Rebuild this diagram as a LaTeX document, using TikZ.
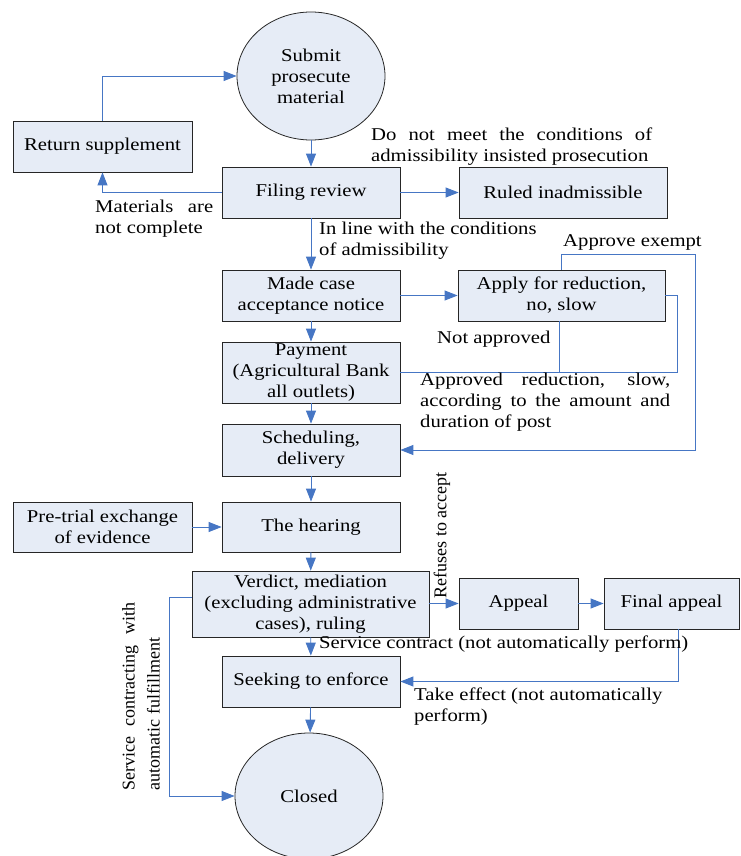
\documentclass[tikz,border=0pt]{standalone}
\usepackage{fontspec}
\setmainfont{Liberation Serif}[FakeStretch=1.15]
\newfontfamily\rotfont{Liberation Serif}
\usetikzlibrary{shapes.geometric,arrows.meta}
\definecolor{boxfill}{RGB}{230,236,246}
\definecolor{linkblue}{RGB}{70,118,196}
\begin{document}
\begin{tikzpicture}[x=1pt,y=-1pt,
  every node/.style={font=\fontsize{18}{21}\selectfont, inner sep=0pt},
  box/.style={draw=black!85, fill=boxfill, line width=0.8pt, align=center},
  oval/.style={ellipse, draw=black!85, fill=boxfill, line width=0.8pt, align=center},
  link/.style={draw=linkblue, line width=0.9pt},
  arr/.style={link, -{Triangle[length=13pt,width=10pt]}},
  rottext/.style={rotate=90, font=\rotfont\fontsize{18}{25}\selectfont},
]
\useasboundingbox (0,0) rectangle (740,856);

% nodes
\node[oval, minimum width=148pt, minimum height=128pt] (sub) at (311,76) {Submit\\prosecute\\material};
\node[box, minimum width=179pt, minimum height=51pt] (ret) at (102.5,146.5) {Return supplement};
\node[box, minimum width=178pt, minimum height=51pt] (fil) at (311,192.5) {Filing review};
\node[box, minimum width=208pt, minimum height=51pt] (rul) at (563,192.5) {Ruled inadmissible};
\node[box, minimum width=178pt, minimum height=51pt] (made) at (311,295.5) {Made case\\acceptance notice};
\node[box, minimum width=207pt, minimum height=51pt] (apl) at (561.5,295.5) {Apply for reduction,\\no, slow};
\node[box, minimum width=178pt, minimum height=61pt] (pay) at (311,372.5) {Payment\\(Agricultural Bank\\all outlets)};
\node[box, minimum width=178pt, minimum height=52pt] (sch) at (311,450) {Scheduling,\\delivery};
\node[box, minimum width=179pt, minimum height=50pt] (pre) at (102.5,527) {Pre-trial exchange\\of evidence};
\node[box, minimum width=178pt, minimum height=50pt] (hear) at (311,527) {The hearing};
\node[box, minimum width=237pt, minimum height=66pt] (ver) at (310.5,604) {Verdict, mediation\\(excluding administrative\\cases), ruling};
\node[box, minimum width=119pt, minimum height=51pt] (app) at (518.5,603.5) {Appeal};
\node[box, minimum width=135pt, minimum height=51pt] (fin) at (671.5,603.5) {Final appeal};
\node[box, minimum width=178pt, minimum height=51pt] (seek) at (311,681.5) {Seeking to enforce};
\node[oval, minimum width=148pt, minimum height=126pt] (clo) at (309,796) {Closed};

% helper coordinates
\coordinate (ae) at (695,254);
\coordinate (ar) at (677,0);
\coordinate (fb) at (678,0);
\coordinate (lc) at (169,0);

% connectors
\draw[arr] (sub.south) -- (fil.north);
\draw[arr] (ret.north) |- (sub.west);
\draw[arr] (fil.west) -| (ret.south);
\draw[arr] (fil) -- (rul);
\draw[arr] (fil) -- (made);
\draw[arr] (made) -- (apl);
\draw[arr] (made) -- (pay);
\draw[arr] (pay) -- (sch);
\draw[arr] (apl.north) |- (ae) |- (sch.east);
\draw[link] (apl.east) -| (ar |- pay.east) -- (pay.east);
\draw[link] ([xshift=-2.5pt]apl.south) -- ([xshift=-2.5pt]apl.south |- pay.east);
\draw[arr] (sch) -- (hear);
\draw[arr] (pre) -- (hear);
\draw[arr] (hear) -- (ver);
\draw[arr] (ver.east |- app.west) -- (app.west);
\draw[arr] (app) -- (fin);
\draw[arr] (fin.south -| fb) |- (seek.east);
\draw[arr] (ver) -- (seek);
\draw[arr] (seek) -- (clo);
\draw[arr] ([yshift=7pt]ver.west) -| (lc |- clo.west) -- (clo.west);

% labels
\node[anchor=west, text width=281pt, align=justify] (l1) at (371,146.5) {Do not meet the conditions of\linebreak admissibility insisted prosecution};
\node[anchor=west, text width=118pt, align=justify] (l2) at (95,218.5) {Materials are\linebreak not complete};
\node[anchor=west, align=left] (l3) at (319,241) {In line with the conditions\\of admissibility};
\node[anchor=west] (l4) at (563,242) {Approve exempt};
\node[anchor=west] (l5) at (437,339) {Not approved};
\node[anchor=west, text width=250pt, align=justify] (l6) at (420,402.5) {Approved reduction, slow,\linebreak according to the amount and\linebreak duration of post};
\node[rottext] (l7) at (442,535.5) {Refuses to accept};
\node[anchor=west] (l8) at (319,644) {Service contract (not automatically perform)};
\node[anchor=west, align=left] (l9) at (414,707) {Take effect (not automatically\\perform)};
\node[rottext, text width=187pt, align=justify] (l10) at (141,696.5) {Service contracting with\linebreak automatic fulfillment};
\end{tikzpicture}
\end{document}
